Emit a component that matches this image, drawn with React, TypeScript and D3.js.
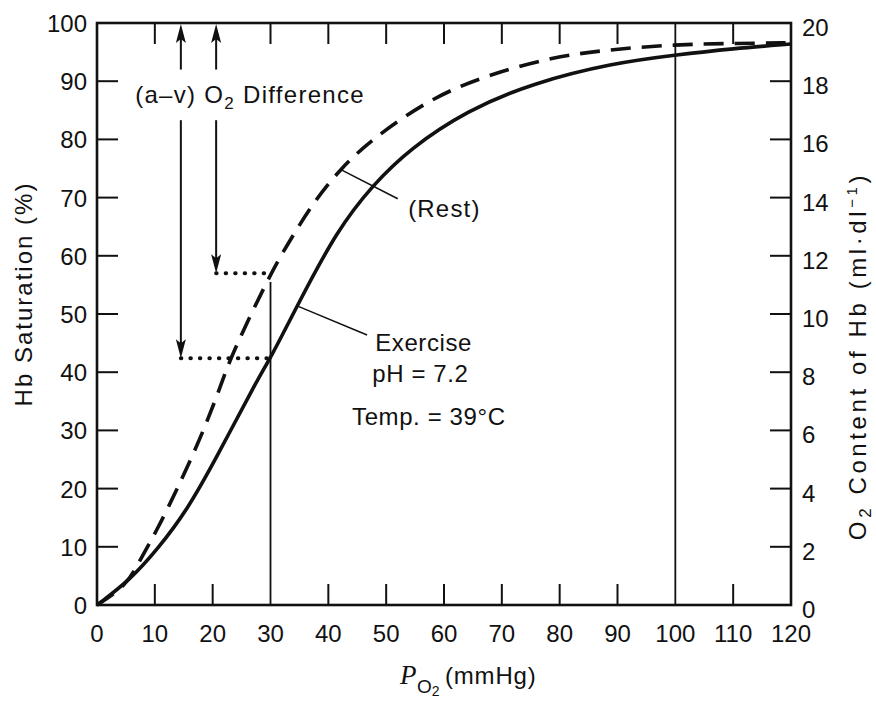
import React from 'react';
import * as d3 from 'd3';

// ---- data ----
const xTickValues = [0, 10, 20, 30, 40, 50, 60, 70, 80, 90, 100, 110, 120];
const leftTickValues = [0, 10, 20, 30, 40, 50, 60, 70, 80, 90, 100];
const rightTickValues = [0, 2, 4, 6, 8, 10, 12, 14, 16, 18, 20];

const exercisePO2 = [0, 5.7, 10.4, 15.6, 20.7, 27.7, 30, 34.6, 41.5, 47.7, 54.1, 64, 75.4, 89.2, 100, 110, 120];
const exerciseSat = [0, 4.3, 9.5, 16.3, 25.4, 38.7, 42.4, 51.4, 64.4, 72.2, 78.4, 85, 89.7, 93.1, 94.5, 95.6, 96.4];

const restPO2 = [0, 5.2, 7.4, 10.4, 13.8, 17.8, 21.6, 23, 30, 33.4, 37.3, 42, 47.7, 58.1, 67.4, 78.8, 89.2, 100, 110, 120];
const restSat = [0, 3.4, 7.7, 12.9, 19.8, 28.4, 38.1, 42.4, 57, 62.7, 69, 74.9, 80.2, 87.3, 91, 94.2, 95.5, 96.3, 96.5, 96.6];

const arrowPO2 = [14.5, 20.6];
const arrowTipSat = [42.4, 57];
const arrowUpperFrom = 92; // upper arrow segment starts here (sat)
const arrowLowerFrom = 83.3; // lower arrow segment starts here (sat)
const refLinePO2 = [30, 100];
const refLineTopSat = [55.5, 100];
const topTickSkip = [0, 20, 100, 120];

// leaders: [curve point], [label end]
const restLeader = [[42, 74.9], [52.0, 69.8]];
const exerciseLeader = [[34.6, 51.4], [46.7, 46.4]];

const W = 876;
const H = 702;

export default function App() {
  const x = d3.scaleLinear().domain([0, 120]).range([97, 791]);
  const y = d3.scaleLinear().domain([0, 100]).range([605, 23]);
  const yR = d3.scaleLinear().domain([0, 20]).range([605, 23]);

  const line = d3
    .line<[number, number]>()
    .x((d) => x(d[0]))
    .y((d) => y(d[1]))
    .curve(d3.curveBasis);

  const exData: [number, number][] = exercisePO2.map((v, i) => [v, exerciseSat[i]]);
  const restData: [number, number][] = restPO2.map((v, i) => [v, restSat[i]]);

  const font = '"Liberation Sans", Arial, Helvetica, sans-serif';
  const ink = '#111';
  const tickLen = 21;

  const innerX = xTickValues.filter((v) => v !== 0 && v !== 120 && !refLinePO2.includes(v));
  const topX = xTickValues.filter((v) => !topTickSkip.includes(v));

  const upHead = (px: number, py: number) =>
    `M${px},${py} L${px - 5},${py + 19} L${px},${py + 15} L${px + 5},${py + 19} Z`;
  const downHead = (px: number, py: number) =>
    `M${px},${py} L${px - 5},${py - 19} L${px},${py - 15} L${px + 5},${py - 19} Z`;

  return (
    <svg
      width={W}
      height={H}
      style={{ position: 'absolute', left: 0, top: 0, background: '#fff' }}
      fontFamily={font}
    >
      <rect x={0} y={0} width={W} height={H} fill="#fff" />

      {/* reference verticals */}
      {refLinePO2.map((v, i) => (
        <line key={'rl' + v} x1={x(v)} x2={x(v)} y1={y(0)} y2={y(refLineTopSat[i])} stroke={ink} strokeWidth={1.8} />
      ))}

      {/* ticks */}
      {innerX.map((v) => (
        <line key={'bt' + v} x1={x(v)} x2={x(v)} y1={y(0)} y2={y(0) - tickLen} stroke={ink} strokeWidth={2} />
      ))}
      {topX.map((v) => (
        <line key={'tt' + v} x1={x(v)} x2={x(v)} y1={y(100)} y2={y(100) + tickLen} stroke={ink} strokeWidth={2} />
      ))}
      {leftTickValues
        .filter((v) => v !== 0 && v !== 100)
        .map((v) => (
          <line key={'lt' + v} x1={x(0)} x2={x(0) + tickLen} y1={y(v)} y2={y(v)} stroke={ink} strokeWidth={2} />
        ))}
      {rightTickValues
        .filter((v) => v !== 0 && v !== 20)
        .map((v) => (
          <line key={'rt' + v} x1={x(120)} x2={x(120) - tickLen} y1={yR(v)} y2={yR(v)} stroke={ink} strokeWidth={2} />
        ))}

      {/* frame */}
      <rect x={x(0)} y={y(100)} width={x(120) - x(0)} height={y(0) - y(100)} fill="none" stroke={ink} strokeWidth={2.6} />

      {/* curves */}
      <path d={line(restData) || ''} fill="none" stroke={ink} strokeWidth={3.6} strokeDasharray="20 11" />
      <path d={line(exData) || ''} fill="none" stroke={ink} strokeWidth={3.6} />

      {/* arrows */}
      {arrowPO2.map((v, i) => (
        <g key={'ar' + i}>
          <line x1={x(v)} x2={x(v)} y1={y(arrowUpperFrom)} y2={y(100) + 10} stroke={ink} strokeWidth={2} />
          <path d={upHead(x(v), y(100) + 1)} fill={ink} />
          <line x1={x(v)} x2={x(v)} y1={y(arrowLowerFrom)} y2={y(arrowTipSat[i]) - 10} stroke={ink} strokeWidth={2} />
          <path d={downHead(x(v), y(arrowTipSat[i]))} fill={ink} />
          <line
            x1={x(v)}
            x2={x(30)}
            y1={y(arrowTipSat[i])}
            y2={y(arrowTipSat[i])}
            stroke={ink}
            strokeWidth={4}
            strokeLinecap="round"
            strokeDasharray="0.5 9"
          />
        </g>
      ))}

      {/* leaders */}
      {[restLeader, exerciseLeader].map((L, i) => (
        <line key={'ld' + i} x1={x(L[0][0])} y1={y(L[0][1])} x2={x(L[1][0])} y2={y(L[1][1])} stroke={ink} strokeWidth={1.5} />
      ))}

      {/* tick labels */}
      {xTickValues.map((v) => (
        <text key={'xl' + v} x={x(v)} y={642} textAnchor="middle" fontSize={24} fill={ink}>
          {v}
        </text>
      ))}
      {leftTickValues.map((v) => (
        <text key={'yl' + v} x={87} y={y(v) + 9} textAnchor="end" fontSize={24} fill={ink}>
          {v}
        </text>
      ))}
      {rightTickValues.map((v) => (
        <text key={'yr' + v} x={802} y={yR(v) + 13} textAnchor="start" fontSize={24} fill={ink}>
          {v}
        </text>
      ))}

      {/* annotations */}
      <text x={x(6.6)} y={y(86.3)} fontSize={24} fill={ink} letterSpacing={1.3}>
        (a–v) O
        <tspan fontSize={17} dy={6}>2</tspan>
        <tspan dy={-6}> Difference</tspan>
      </text>
      <text x={x(53.8)} y={y(66.7)} fontSize={24} fill={ink} letterSpacing={1.2}>
        (Rest)
      </text>
      <text x={x(48.1)} y={y(43.6)} fontSize={24} fill={ink} letterSpacing={0.6}>
        Exercise
      </text>
      <text x={x(47.6)} y={y(38.3)} fontSize={24} fill={ink} letterSpacing={0.6}>
        pH = 7.2
      </text>
      <text x={x(44.1)} y={y(30.9)} fontSize={24} fill={ink} letterSpacing={0.6}>
        Temp. = 39°C
      </text>

      {/* axis titles */}
      <text transform="translate(32,294) rotate(-90)" textAnchor="middle" fontSize={24} fill={ink} letterSpacing={2}>
        Hb Saturation (%)
      </text>
      <text transform="translate(866,356) rotate(-90)" textAnchor="middle" fontSize={24} fill={ink} letterSpacing={3.6}>
        O<tspan fontSize={17} dy={5}>2</tspan>
        <tspan dy={-5}> Content of Hb (ml·dl</tspan>
        <tspan fontSize={15} dy={-9}>−1</tspan>
        <tspan dy={9}>)</tspan>
      </text>
      <text x={400} y={684} fontSize={27} fill={ink} fontFamily='"Liberation Serif", "Times New Roman", serif' fontStyle="italic">
        P
      </text>
      <text x={417} y={693} fontSize={19} fill={ink}>
        O<tspan fontSize={14} dy={3}>2</tspan>
      </text>
      <text x={445} y={684} fontSize={24} fill={ink} letterSpacing={0.8}>
        (mmHg)
      </text>
    </svg>
  );
}
